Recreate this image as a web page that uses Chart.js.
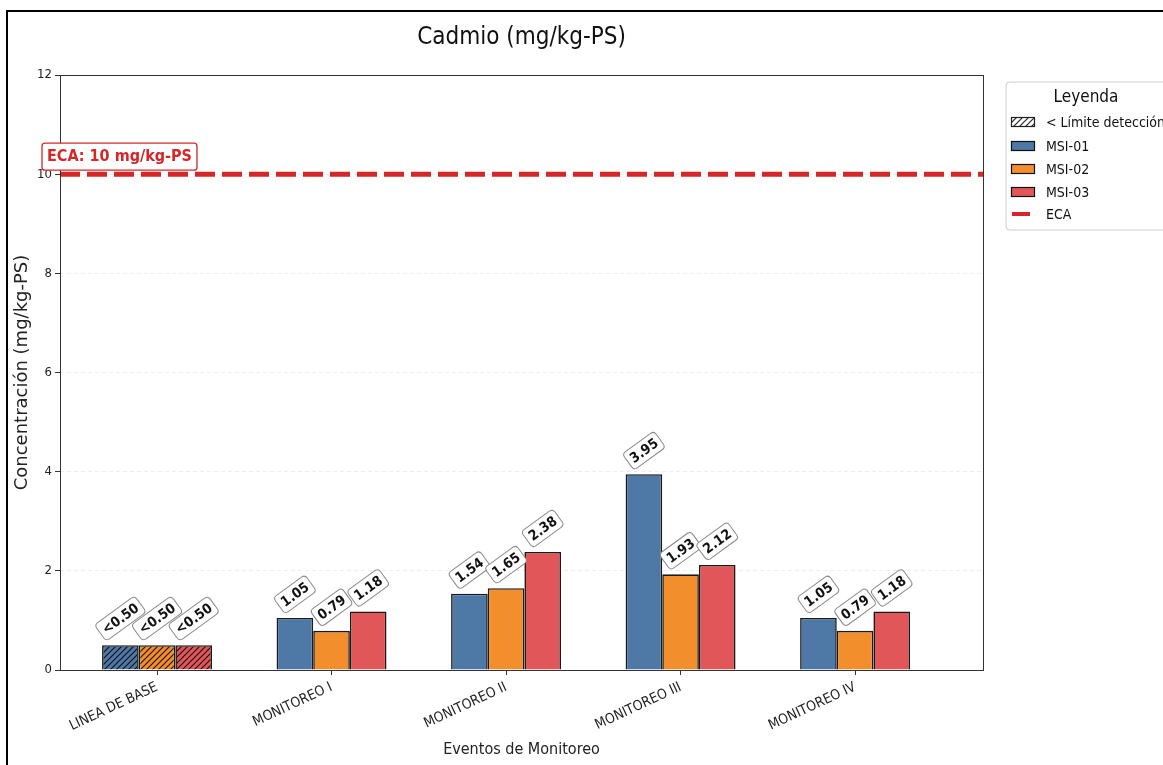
<!DOCTYPE html>
<html>
<head>
<meta charset="utf-8">
<script src="https://cdn.jsdelivr.net/npm/chart.js@4/dist/chart.umd.min.js"></script>
<style>
  html, body { margin: 0; padding: 0; background: #fff; }
  #wrap { width: 1163px; height: 765px; }
</style>
</head>
<body>
<div id="wrap"><canvas id="chart" width="1163" height="765"></canvas></div>
<script>
// data
const categories = ['LINEA DE BASE', 'MONITOREO I', 'MONITOREO II', 'MONITOREO III', 'MONITOREO IV'];
const seriesNames = ['MSI-01', 'MSI-02', 'MSI-03'];
const msi01 = [0.50, 1.05, 1.54, 3.95, 1.05];
const msi02 = [0.50, 0.79, 1.65, 1.93, 0.79];
const msi03 = [0.50, 1.18, 2.38, 2.12, 1.18];
const belowLimit = [true, false, false, false, false];
const ecaValue = 10;
const yTicks = [0, 2, 4, 6, 8, 10, 12];

const colors = ['#4e79a7', '#f28e2b', '#e15759'];
const ecaColor = '#d62728';
const condensed = "'DejaVu Sans Condensed', 'DejaVu Sans', sans-serif";
const plain = "'DejaVu Sans', sans-serif";

function hatch(color) {
    const c = document.createElement('canvas');
    c.width = 6; c.height = 6;
    const g = c.getContext('2d');
    g.fillStyle = color;
    g.fillRect(0, 0, 6, 6);
    g.strokeStyle = 'rgba(0,0,0,0.85)';
    g.lineWidth = 1.2;
    g.beginPath();
    g.moveTo(-1, 7); g.lineTo(7, -1);
    g.moveTo(-1, 1); g.lineTo(1, -1);
    g.moveTo(5, 7); g.lineTo(7, 5);
    g.stroke();
    return g.createPattern(c, 'repeat');
}

function makeDataset(name, values, color) {
    const pat = hatch(color);
    return {
        label: name,
        data: values.map((v, i) => ({ x: i, y: v })),
        backgroundColor: ctx => belowLimit[ctx.dataIndex] ? pat : color,
        borderColor: '#1a1a1a',
        borderWidth: 1.6,
        borderSkipped: 'bottom',
        categoryPercentage: 0.63,
        barPercentage: 1.0
    };
}

function roundRect(g, x, y, w, h, r) {
    g.beginPath();
    g.moveTo(x + r, y);
    g.lineTo(x + w - r, y);
    g.quadraticCurveTo(x + w, y, x + w, y + r);
    g.lineTo(x + w, y + h - r);
    g.quadraticCurveTo(x + w, y + h, x + w - r, y + h);
    g.lineTo(x + r, y + h);
    g.quadraticCurveTo(x, y + h, x, y + h - r);
    g.lineTo(x, y + r);
    g.quadraticCurveTo(x, y, x + r, y);
    g.closePath();
}

const decorations = {
    id: 'decorations',
    beforeDatasetsDraw(chart) {
        const g = chart.ctx;
        const a = chart.chartArea;
        const y = chart.scales.y.getPixelForValue(ecaValue);
        g.save();
        g.beginPath();
        g.rect(a.left, a.top, a.right - a.left, a.bottom - a.top);
        g.clip();
        g.strokeStyle = ecaColor;
        g.lineWidth = 5;
        g.setLineDash([20, 7]);
        g.beginPath();
        g.moveTo(a.left, y);
        g.lineTo(a.right, y);
        g.stroke();
        g.restore();
    },
    afterDraw(chart) {
        const g = chart.ctx;
        const a = chart.chartArea;
        g.save();

        // figure frame (left and top edges visible)
        g.strokeStyle = '#000';
        g.lineWidth = 2;
        g.beginPath();
        g.moveTo(7, 765);
        g.lineTo(7, 11);
        g.lineTo(1163, 11);
        g.stroke();

        // plot frame
        g.strokeStyle = '#333';
        g.lineWidth = 1;
        g.strokeRect(a.left + 0.5, a.top + 0.5, a.right - a.left, a.bottom - a.top);

        // title
        g.fillStyle = '#111';
        g.font = '24px ' + condensed;
        g.textAlign = 'center';
        g.textBaseline = 'middle';
        g.fillText('Cadmio (mg/kg-PS)', (a.left + a.right) / 2, 38);

        // ECA label
        const ey = chart.scales.y.getPixelForValue(ecaValue);
        g.font = 'bold 16px ' + condensed;
        const et = 'ECA: 10 mg/kg-PS';
        const ew = g.measureText(et).width + 10;
        g.fillStyle = '#fff';
        roundRect(g, 42, ey - 31, ew, 27, 3);
        g.fill();
        g.strokeStyle = ecaColor;
        g.lineWidth = 1.3;
        g.stroke();
        g.fillStyle = ecaColor;
        g.textAlign = 'left';
        g.fillText(et, 47, ey - 17);

        // value labels
        const ang = 36 * Math.PI / 180;
        g.font = 'bold 14px ' + condensed;
        chart.data.datasets.forEach((ds, di) => {
            const meta = chart.getDatasetMeta(di);
            meta.data.forEach((bar, i) => {
                const v = ds.data[i].y;
                const txt = belowLimit[i] ? '<' + v.toFixed(2) : v.toFixed(2);
                const w = g.measureText(txt).width + 8;
                const h = 20;
                const half = (w * Math.sin(ang) + h * Math.cos(ang)) / 2;
                g.save();
                g.translate(bar.x, bar.y - 4 - half);
                g.rotate(-ang);
                g.fillStyle = '#fff';
                roundRect(g, -w / 2, -h / 2, w, h, 4);
                g.fill();
                g.strokeStyle = '#888';
                g.lineWidth = 1;
                g.stroke();
                g.fillStyle = '#111';
                g.textAlign = 'center';
                g.textBaseline = 'middle';
                g.fillText(txt, 0, 1);
                g.restore();
            });
        });

        // legend
        g.fillStyle = '#fff';
        roundRect(g, 1006, 82, 170, 148, 4);
        g.fill();
        g.strokeStyle = '#ccc';
        g.lineWidth = 1;
        g.stroke();
        g.fillStyle = '#111';
        g.font = '17px ' + condensed;
        g.textAlign = 'center';
        g.fillText('Leyenda', 1086, 98);
        g.font = '14px ' + condensed;
        g.textAlign = 'left';
        const rows = [122, 146, 169, 192, 214];
        const labels = ['< Límite detección'].concat(seriesNames).concat(['ECA']);
        labels.forEach((lab, k) => {
            const ry = rows[k];
            if (k === 0) {
                g.fillStyle = hatch('#ffffff');
                g.fillRect(1011, ry - 5, 24, 10);
                g.strokeStyle = '#222';
                g.lineWidth = 1.2;
                g.strokeRect(1011.5, ry - 4.5, 23, 9);
            } else if (k <= 3) {
                g.fillStyle = colors[k - 1];
                g.fillRect(1011, ry - 5, 24, 10);
                g.strokeStyle = '#111';
                g.lineWidth = 1.2;
                g.strokeRect(1011.5, ry - 4.5, 23, 9);
            } else {
                g.strokeStyle = ecaColor;
                g.lineWidth = 4;
                g.beginPath();
                g.moveTo(1012, ry);
                g.lineTo(1030, ry);
                g.stroke();
            }
            g.fillStyle = '#111';
            g.fillText(lab, 1046, ry + 1);
        });

        g.restore();
    }
};

new Chart(document.getElementById('chart'), {
    type: 'bar',
    data: {
        datasets: [
            makeDataset(seriesNames[0], msi01, colors[0]),
            makeDataset(seriesNames[1], msi02, colors[1]),
            makeDataset(seriesNames[2], msi03, colors[2])
        ]
    },
    options: {
        responsive: false,
        animation: false,
        layout: { padding: { left: 0, top: 75, right: 180, bottom: 0 } },
        plugins: {
            legend: { display: false },
            title: { display: false },
            tooltip: { enabled: false }
        },
        scales: {
            x: {
                type: 'linear',
                min: -0.556,
                max: 4.733,
                offset: false,
                afterBuildTicks: axis => { axis.ticks = categories.map((c, i) => ({ value: i })); },
                afterFit: scale => { scale.height = 95; },
                grid: { offset: false, drawOnChartArea: false, drawTicks: true, tickLength: 5, tickColor: '#333' },
                border: { display: false },
                ticks: {
                    autoSkip: false,
                    minRotation: 25,
                    maxRotation: 25,
                    padding: 4,
                    color: '#222',
                    font: { family: condensed, size: 14 },
                    callback: v => categories[v] || ''
                },
                title: {
                    display: true,
                    text: 'Eventos de Monitoreo',
                    color: '#222',
                    font: { family: condensed, size: 16 },
                    padding: { top: 0, bottom: 6 }
                }
            },
            y: {
                min: 0,
                max: 12,
                afterBuildTicks: axis => { axis.ticks = yTicks.map(v => ({ value: v })); },
                afterFit: scale => { scale.width = 60; },
                grid: {
                    color: 'rgba(0,0,0,0.07)',
                    tickColor: '#333',
                    tickLength: 5
                },
                border: { display: false, dash: [4, 3] },
                ticks: {
                    color: '#222',
                    padding: 3,
                    font: { family: condensed, size: 13 }
                },
                title: {
                    display: true,
                    text: 'Concentración (mg/kg-PS)',
                    color: '#222',
                    font: { family: plain, size: 18 },
                    padding: { top: 12, bottom: 0 }
                }
            }
        }
    },
    plugins: [decorations]
});
</script>
</body>
</html>
